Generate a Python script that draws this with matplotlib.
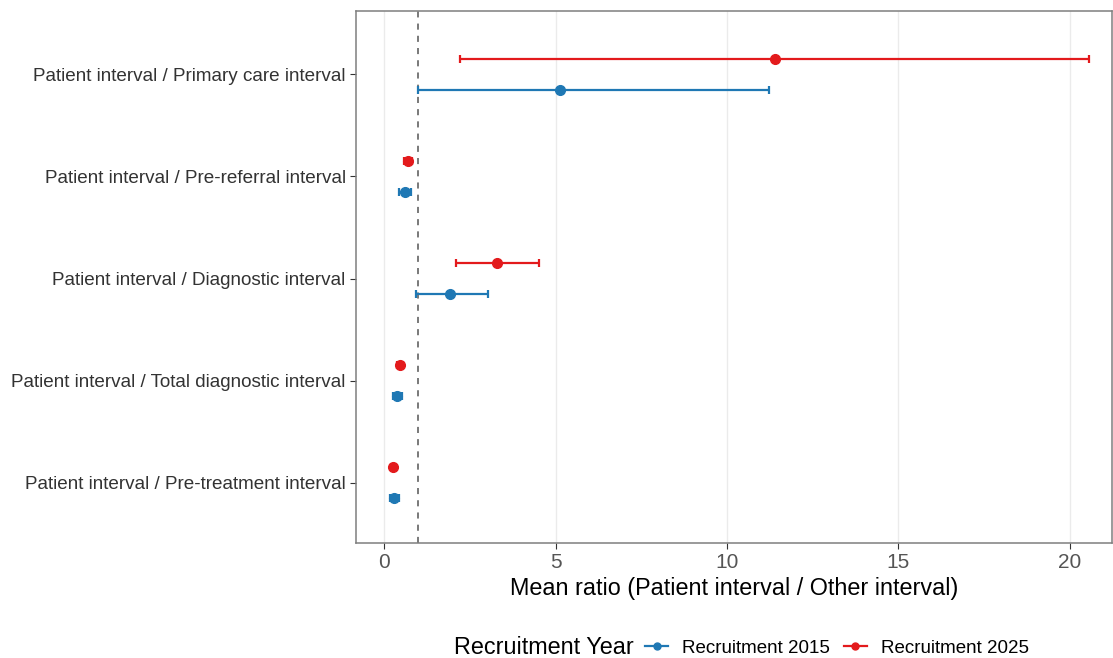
import matplotlib.pyplot as plt
from matplotlib.lines import Line2D
import numpy as np

plt.rcParams['font.family'] = ['Liberation Sans', 'DejaVu Sans']

# categories from bottom to top
categories = [
    "Patient interval / Pre-treatment interval",
    "Patient interval / Total diagnostic interval",
    "Patient interval / Diagnostic interval",
    "Patient interval / Pre-referral interval",
    "Patient interval / Primary care interval",
]

mean_2015 = [0.29, 0.38, 1.92, 0.61, 5.13]
lo_2015 = [0.17, 0.26, 0.93, 0.44, 1.00]
hi_2015 = [0.44, 0.52, 3.03, 0.79, 11.22]

mean_2025 = [0.26, 0.47, 3.30, 0.70, 11.40]
lo_2025 = [0.20, 0.38, 2.10, 0.58, 2.20]
hi_2025 = [0.32, 0.56, 4.52, 0.82, 20.55]

col_2015 = "#1f78b4"
col_2025 = "#e31a1c"

fig = plt.figure(figsize=(11.13, 6.58), dpi=100)
ax = fig.add_axes([0.3199, 0.1748, 0.679, 0.8085])

y = np.arange(1, len(categories) + 1)
dodge = 0.15

for means, los, his, col, off in [
    (mean_2015, lo_2015, hi_2015, col_2015, -dodge),
    (mean_2025, lo_2025, hi_2025, col_2025, dodge),
]:
    m = np.array(means)
    err = [m - np.array(los), np.array(his) - m]
    ax.errorbar(m, y + off, xerr=err, fmt="o", color=col, ecolor=col,
                elinewidth=1.6, capsize=3, capthick=1.6, markersize=7, zorder=3)

ax.axvline(1, color="#555555", linestyle=(0, (4, 4)), linewidth=1.1, zorder=2)

ax.set_xlim(-0.82, 21.22)
ax.set_ylim(0.41, 5.62)
ax.set_yticks(y)
ax.set_yticklabels(categories, fontsize=13.6, color="#555555")
ax.set_xticks([0, 5, 10, 15, 20])
ax.tick_params(axis="x", labelsize=15, colors="#333333", labelcolor="#555555", length=4)
ax.tick_params(axis="y", colors="#333333", length=4)
ax.grid(axis="x", color="#ebebeb", linewidth=1.0, zorder=0)
ax.set_axisbelow(True)
for s in ax.spines.values():
    s.set_color("#7f7f7f")
    s.set_linewidth(1.1)

ax.set_xlabel("Mean ratio (Patient interval / Other interval)", fontsize=16.8, labelpad=3)

handles = [
    Line2D([], [], color=col_2015, marker="o", markersize=5, linewidth=1.6),
    Line2D([], [], color=col_2025, marker="o", markersize=5, linewidth=1.6),
]
fig.text(454 / 1113, 1 - 647 / 658, "Recruitment Year", fontsize=16.8, va="center", ha="left")
fig.legend(handles, ["Recruitment 2015", "Recruitment 2025"], loc="center left",
           bbox_to_anchor=(645 / 1113, 1 - 648 / 658), ncol=2, frameon=False,
           fontsize=13.5, handlelength=1.25, handletextpad=0.75, columnspacing=0.7,
           borderpad=0, borderaxespad=0)

fig.savefig("out.png", dpi=100)
